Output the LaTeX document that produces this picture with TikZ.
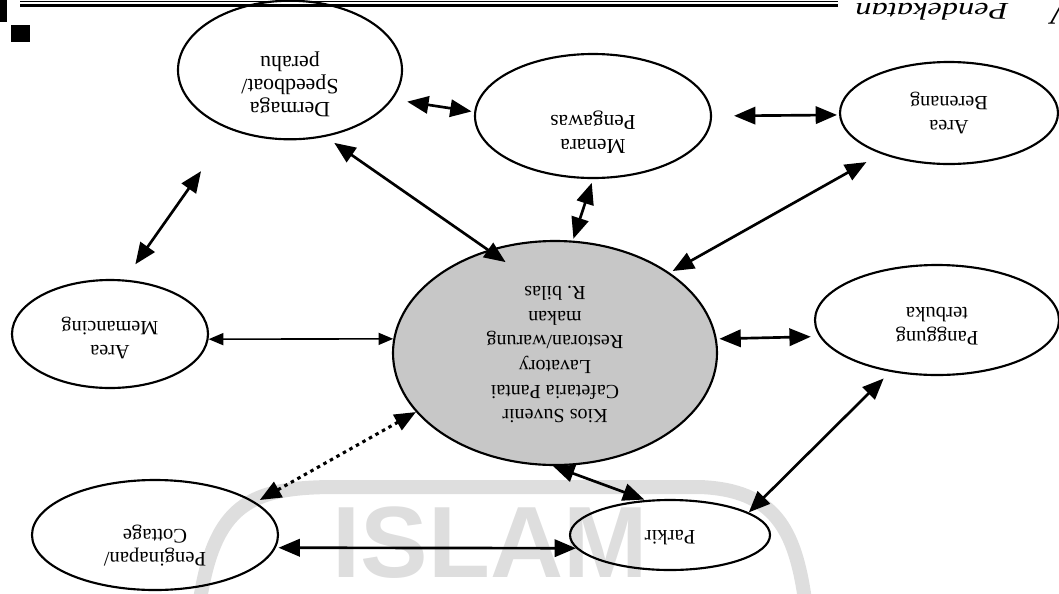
\documentclass[tikz,border=0pt]{standalone}
\usepackage{graphicx}
\usepackage{fontspec}
\setmainfont{Liberation Serif}
\newfontfamily\wmfont{Liberation Sans}
\usetikzlibrary{shapes.geometric,arrows.meta}
% upside-down multi-line label; optional arg adds space below the block
\newcommand\fliptext[2][0pt]{\rotatebox{180}{\begin{tabular}{@{}c@{}}#2\\[#1]\end{tabular}}}
\begin{document}
\begin{tikzpicture}[x=0.75pt,y=-0.75pt,
  place/.style={ellipse, draw, line width=1.6pt, inner sep=0pt},
  txt/.style={font=\fontsize{#1}{17.5}\selectfont},
  link/.style={{Triangle[length=16pt,width=13pt]}-{Triangle[length=16pt,width=13pt]},
    line width=2pt},
  thinlink/.style={{Triangle[length=11pt,width=9pt]}-{Triangle[length=11pt,width=9pt]},
    line width=1.2pt},
  dotlink/.style={link, line width=2.3pt, dash pattern=on 2.6pt off 3pt},
  wmark/.style={black!13}
]
\useasboundingbox (0,0) rectangle (1059,593);
\clip (0,0) rectangle (1059,593);

% background watermark
\draw[wmark, line width=10.5pt] (200,600) .. controls (215,505) and (250,488) .. (330,487)
  -- (700,487) .. controls (775,490) and (795,530) .. (805,600);
\node[wmark, font=\wmfont\bfseries\fontsize{76}{80}\selectfont, inner sep=0pt] (wm) at (490,543) {ISLAM};

% page header
\draw[line width=0.8pt] (20,1.5) -- (838,1.5);
\draw[line width=2.4pt] (20,5.5) -- (838,5.5);
\fill (0,0) rectangle (7,22);
\fill (11,25) rectangle (30,42);
\node[rotate=180, anchor=base, inner sep=0pt, font=\itshape\fontsize{18}{20}\selectfont]
  (hdr) at (932,3) {\scalebox{1.35}[1]{Pendekatan}};
\node[rotate=180, anchor=base, inner sep=0pt, font=\itshape\fontsize{26}{28}\selectfont]
  (chap) at (1062,1) {V};

% facilities
\node[place, txt=16.4, minimum width=168pt, minimum height=94.5pt] (derm) at (290,70)
  {\fliptext[21pt]{Dermaga\\Speedboat/\\perahu}};
\node[place, txt=16, minimum width=177pt, minimum height=93pt] (men) at (593,116)
  {\fliptext[24pt]{Menara\\Pengawas}};
\node[place, txt=15.2, minimum width=163.5pt, minimum height=76.5pt] (ber) at (949,113)
  {\fliptext{Area\\Berenang}};
\node[place, fill=black!22, minimum width=243pt, minimum height=168pt,
  font=\fontsize{15}{18.5}\selectfont] (cen) at (555,353)
  {\fliptext{Kios Suvenir\\Cafetaria Pantai\\Lavatory\\Restoran/warung\\makan\\R. bilas}};
\node[place, txt=15.2, minimum width=147pt, minimum height=81pt] (mem) at (110,334)
  {\fliptext[6pt]{Area\\Memancing}};
\node[place, txt=15.5, minimum width=183pt, minimum height=82.5pt] (pang) at (937,320)
  {\fliptext[6pt]{Panggung\\terbuka}};
\node[place, txt=15.5, minimum width=184.5pt, minimum height=82.5pt] (peng) at (155,535)
  {\fliptext[16pt]{Penginapan/\\Cottage}};
\node[place, txt=15.5, minimum width=150pt, minimum height=52.5pt] (park) at (670,535)
  {\fliptext{Parkir}};

% relations
\draw[link, shorten <=11pt, shorten >=2pt] (derm.-16.7) -- (men.178);
\draw[link, shorten <=16.5pt, shorten >=1.5pt] (men.0.4) -- (ber.181);
\draw[link, shorten <=38pt, shorten >=14pt] (derm.225.6) -- (mem.75.6);
\draw[link, shorten <=8pt, shorten >=-16pt] (derm.-62.9) -- (cen.123.7);
\draw[link, shorten <=3pt, shorten >=1.5pt] (men.-90) -- (cen.81.4);
\draw[link, shorten <=12.5pt, shorten >=2.5pt] (ber.211.2) -- (cen.35.8);
\draw[thinlink] (mem.-3.5) -- (cen.175.4);
\draw[link, shorten <=2pt, shorten >=6.5pt] (cen.5.3) -- (pang.188.2);
\draw[dotlink, shorten >=3.5pt] (cen.203.9) -- (peng.18.9);
\draw[link, shorten >=1pt] (cen.-91.5) -- (park.125.5);
\draw[link, shorten <=7pt] (pang.228.7) -- (park.16.3);
\draw[link, shorten <=2pt] (peng.-6) -- (park.188);
\end{tikzpicture}
\end{document}
